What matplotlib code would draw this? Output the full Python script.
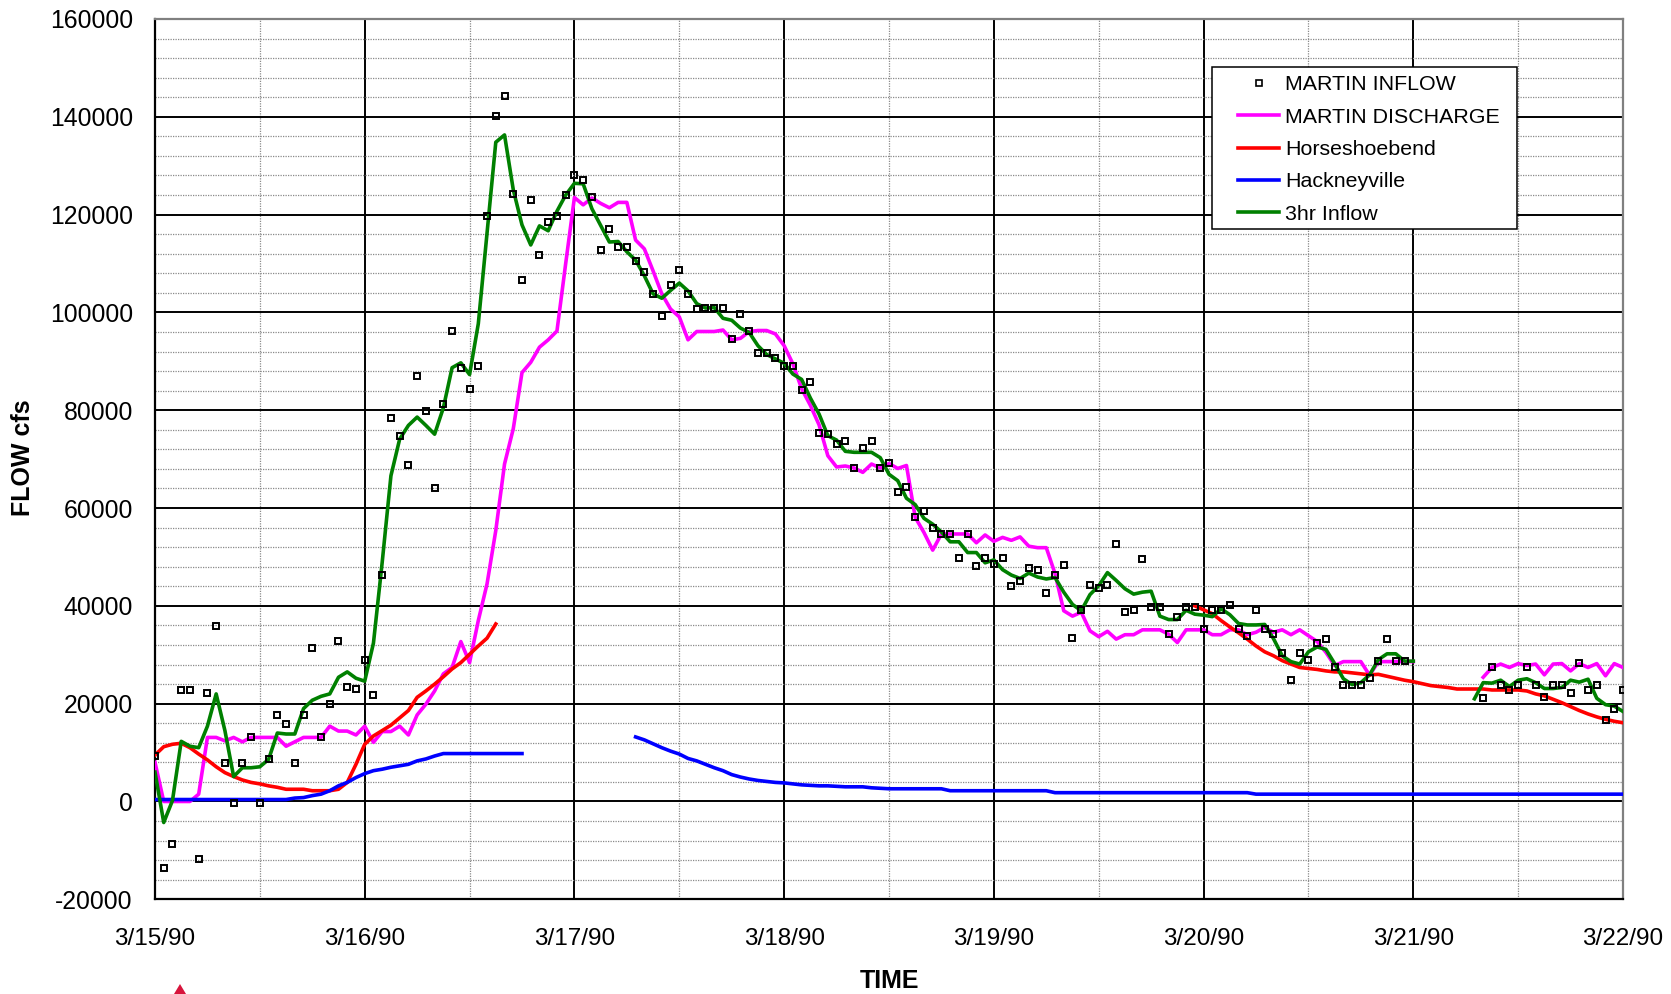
import numpy as np
import pandas as pd
import matplotlib
matplotlib.use("Agg")
import matplotlib.pyplot as plt
import matplotlib.dates as mdates
from matplotlib.ticker import MultipleLocator, StrMethodFormatter
from matplotlib.patches import Polygon, Rectangle
from matplotlib.lines import Line2D

N = None
# hourly observations starting 3/15/90 00:00
times = pd.date_range("1990-03-15 00:00", periods=169, freq="h")

martin_inflow = [
    9400, -13500, -8700, 22800, 22800, -11800, 22100, 35900, 7900, -400, 7900, 13100,
    -400, 8600, 17600, 15900, 7900, 17600, 31400, 13100, 20000, 32800, 23500, 23100,
    29000, 21800, 46400, 78500, 74800, 68900, 86900, 79900, 64000, 81300, 96200, 88600,
    84400, 89000, 119800, 140200, 144300, 124300, 106600, 122900, 111800, 118400, 119800, 124000,
    128100, 127100, 123600, 112800, 117000, 113300, 113300, 110500, 108300, 103800, 99300, 105600,
    108700, 103800, 100700, 101000, 101000, 101000, 94500, 99700, 96200, 91700, 91700, 90700,
    89000, 89000, 84100, 85800, 75400, 75100, 73000, 73700, 68100, 72300, 73700, 68100,
    69200, 63300, 64400, 58200, 59500, 56000, 54700, 54700, 49800, 54700, 48100, 49800,
    48500, 49800, 44000, 45000, 47700, 47400, 42600, 46400, 48400, 33500, 39100, 44300,
    43600, 44300, 52600, 38700, 39100, 49500, 39800, 39800, 34200, 37700, 39800, 39800,
    35300, 39100, 39100, 40100, 35300, 33900, 39100, 35300, 34200, 30400, 24900, 30400,
    29000, 32500, 33200, 27600, 23900, 23900, 23900, 25200, 28700, 33200, 28700, 28700,
    N, N, N, N, N, N, N, N, 21100, 27600, 23900, 22800,
    23900, 27600, 23900, 21400, 23900, 23900, 22100, 28300, 22800, 23900, 16600, 19000,
    22800]

martin_discharge = [
    8000, 0, 0, 0, 0, 1500, 13100, 13100, 12400, 13100, 12200, 13100,
    13100, 13100, 13100, 11300, 12200, 13100, 13100, 13100, 15400, 14400, 14400, 13600,
    15400, 12100, 14300, 14300, 15400, 13600, 17700, 19900, 22600, 26100, 27400, 32700,
    28400, 37000, 44500, 55400, 69000, 76200, 87700, 89800, 92900, 94400, 96200, 110000,
    123500, 122000, 123400, 122300, 121400, 122500, 122500, 114800, 113000, 108500, 103800, 100700,
    99100, 94400, 96100, 96100, 96100, 96400, 94400, 94700, 96100, 96300, 96300, 95600,
    93200, 89500, 84400, 81000, 77000, 70700, 68400, 68600, 68200, 67300, 69000, 68200,
    69100, 68100, 68700, 58100, 55000, 51400, 54700, 54700, 54700, 54700, 52900, 54500,
    53200, 54000, 53400, 54100, 52200, 51900, 51900, 46600, 39000, 37900, 38700, 34900,
    33700, 34800, 33200, 34100, 34100, 35100, 35100, 35100, 34200, 32500, 35100, 35100,
    35100, 34100, 34100, 35100, 35100, 34100, 34600, 35600, 34600, 35100, 34100, 35100,
    33900, 32700, 30500, 27800, 28600, 28600, 28600, 25800, 28600, 28600, 28600, 28600,
    28600, N, N, N, N, N, N, N, 25400, 27400, 28100, 27400,
    28200, 27800, 28100, 25900, 28100, 28200, 26700, 28200, 27400, 28200, 25700, 28200,
    27400]

horseshoebend = [
    9500, 11200, 11700, 11900, 11000, 9700, 8500, 7100, 5900, 5100, 4400, 3900,
    3600, 3200, 2900, 2500, 2500, 2500, 2200, 2200, 2200, 2500, 3900, 7600,
    11700, 13400, 14500, 15600, 17100, 18600, 21300, 22600, 24000, 25500, 27100, 28400,
    30100, 31800, 33400, 36300, N, N, N, N, N, N, N, N,
    N, N, N, N, N, N, N, N, N, N, N, N,
    N, N, N, N, N, N, N, N, N, N, N, N,
    N, N, N, N, N, N, N, N, N, N, N, N,
    N, N, N, N, N, N, N, N, N, N, N, N,
    N, N, N, N, N, N, N, N, N, N, N, N,
    N, N, N, N, N, N, N, N, N, N, N, 40000,
    39200, 38400, 37000, 35700, 34500, 33200, 31800, 30600, 29800, 28800, 28100, 27400,
    27200, 27000, 26700, 26500, 26500, 26300, 26100, 25900, 26000, 25600, 25200, 24800,
    24500, 24100, 23700, 23500, 23300, 23000, 23000, 23000, 23000, 22800, 22800, 22800,
    22800, 22600, 22000, 21600, 20900, 20200, 19400, 18600, 17900, 17300, 16800, 16400,
    16100]

hackneyville = [
    400, 400, 400, 400, 400, 400, 400, 400, 400, 400, 400, 400,
    400, 400, 400, 400, 700, 800, 1200, 1500, 2200, 3200, 3900, 4900,
    5700, 6300, 6600, 7000, 7300, 7600, 8300, 8700, 9300, 9800, 9800, 9800,
    9800, 9800, 9800, 9800, 9800, 9800, 9800, N, N, N, N, N,
    N, N, N, N, N, N, N, 13200, 12600, 11800, 11000, 10300,
    9700, 8800, 8300, 7600, 6900, 6300, 5500, 5000, 4600, 4300, 4100, 3900,
    3800, 3600, 3400, 3300, 3200, 3200, 3100, 3000, 3000, 3000, 2800, 2700,
    2600, 2600, 2600, 2600, 2600, 2600, 2600, 2200, 2200, 2200, 2200, 2200,
    2200, 2200, 2200, 2200, 2200, 2200, 2200, 1800, 1800, 1800, 1800, 1800,
    1800, 1800, 1800, 1800, 1800, 1800, 1800, 1800, 1800, 1800, 1800, 1800,
    1800, 1800, 1800, 1800, 1800, 1800, 1500, 1500, 1500, 1500, 1500, 1500,
    1500, 1500, 1500, 1500, 1500, 1500, 1500, 1500, 1500, 1500, 1500, 1500,
    1500, 1500, 1500, 1500, 1500, 1500, 1500, 1500, 1500, 1500, 1500, 1500,
    1500, 1500, 1500, 1500, 1500, 1500, 1500, 1500, 1500, 1500, 1500, 1500,
    1500]

inflow_3hr = [
    6000, -4300, 200, 12300, 11300, 11000, 15400, 22000, 14500, 5100, 6900, 6900,
    7100, 8600, 14000, 13800, 13800, 19000, 20700, 21500, 22000, 25400, 26500, 25200,
    24600, 32400, 48900, 66600, 74100, 76900, 78600, 76900, 75100, 80500, 88700, 89700,
    87300, 97700, 116300, 134800, 136300, 125100, 117900, 113800, 117700, 116700, 120700, 124000,
    126400, 126300, 121200, 117800, 114400, 114500, 112400, 110700, 107500, 103800, 102900, 104500,
    106000, 104400, 101800, 100900, 101000, 98800, 98400, 96800, 95900, 93200, 91400, 90500,
    89600, 87400, 86300, 82500, 79200, 74800, 73900, 71600, 71400, 71400, 71400, 70300,
    66900, 65600, 62000, 60700, 57900, 56700, 55100, 53100, 53100, 50900, 50900, 48800,
    49400, 47400, 46300, 45600, 46700, 45900, 45500, 45800, 42800, 40300, 39000, 42300,
    44100, 46800, 45200, 43500, 42400, 42800, 43000, 37900, 37200, 37200, 39100, 38300,
    38100, 37800, 39400, 38200, 36400, 36100, 36100, 36200, 33300, 29800, 28600, 28100,
    30600, 31600, 31100, 28200, 25100, 23900, 24300, 25900, 29000, 30200, 30200, 28700,
    28700, N, N, N, N, N, N, 21000, 24300, 24200, 24800, 23500,
    24800, 25100, 24300, 23100, 23100, 23300, 24800, 24400, 25000, 21100, 19800, 19500,
    18400]

tick_labels = ["3/15/90", "3/16/90", "3/17/90", "3/18/90",
               "3/19/90", "3/20/90", "3/21/90", "3/22/90"]
tick_dates = pd.date_range("1990-03-15", periods=len(tick_labels), freq="D")

def arr(v):
    return np.array([np.nan if x is None else x for x in v], dtype=float)

plt.rcParams['font.family'] = ['Liberation Sans', 'DejaVu Sans']
plt.rcParams['axes.unicode_minus'] = False

W, H = 1671, 994
fig = plt.figure(figsize=(W / 100, H / 100), dpi=100)
L, R, T, B = 155, 1623, 19, 899.3
ax = fig.add_axes([L / W, 1 - B / H, (R - L) / W, (B - T) / H])

LW = 2.6
MS, MEW = 4.4, 1.4
ax.plot(times, arr(martin_discharge), color='#FF00FF', lw=LW, zorder=3)
ax.plot(times, arr(horseshoebend), color='#FF0000', lw=LW, zorder=3)
ax.plot(times, arr(hackneyville), color='#0000FF', lw=LW, zorder=3)
ax.plot(times, arr(inflow_3hr), color='#008000', lw=LW, zorder=4)
ax.plot(times, arr(martin_inflow), ls='none', marker='s', ms=MS, mew=MEW,
        mfc='none', mec='black', zorder=5)

ax.set_xlim(tick_dates[0], tick_dates[-1])
ax.set_ylim(-20000, 160000)
ax.set_xticks(tick_dates)
ax.set_xticklabels(tick_labels)
ax.xaxis.set_minor_locator(mdates.HourLocator(byhour=[12]))
ax.yaxis.set_major_locator(MultipleLocator(20000))
ax.yaxis.set_minor_locator(MultipleLocator(4000))
ax.yaxis.set_major_formatter(StrMethodFormatter('{x:.0f}'))

ax.set_axisbelow(True)
ax.grid(which='major', color='black', lw=1.4)
ax.grid(which='minor', color='#8a8a8a', lw=0.9, ls=(0, (1, 1)))
ax.tick_params(which='both', length=0)
ax.tick_params(axis='y', labelsize=17.8, pad=16)
ax.tick_params(axis='x', labelsize=17.5, pad=21)

for s in ['left', 'bottom']:
    ax.spines[s].set_color('black')
    ax.spines[s].set_linewidth(1.6)
for s in ['top', 'right']:
    ax.spines[s].set_color('#808080')
    ax.spines[s].set_linewidth(1.6)

fig.text(889 / W, 1 - 981 / H, 'TIME', ha='center', va='center',
         fontsize=18, fontweight='bold')
fig.text(23 / W, 1 - 458 / H, 'FLOW cfs', ha='center', va='center',
         rotation=90, fontsize=18, fontweight='bold')

# legend
frame = Rectangle((1212.3 / W, 1 - 229.3 / H), 305 / W, 162.6 / H,
                  transform=fig.transFigure, facecolor='white',
                  edgecolor='black', lw=1.1, zorder=5)
fig.add_artist(frame)
handles = [
    Line2D([], [], ls='none', marker='s', ms=MS - 0.6, mew=MEW - 0.2, mfc='none', mec='black'),
    Line2D([], [], color='#FF00FF', lw=LW),
    Line2D([], [], color='#FF0000', lw=LW),
    Line2D([], [], color='#0000FF', lw=LW),
    Line2D([], [], color='#008000', lw=LW),
]
labels = ['MARTIN INFLOW', 'MARTIN DISCHARGE', 'Horseshoebend', 'Hackneyville', '3hr Inflow']
leg = fig.legend(handles, labels, loc='upper left',
                 bbox_to_anchor=(1237.7 / W, 1 - 75.5 / H),
                 bbox_transform=fig.transFigure, frameon=False,
                 borderpad=0, borderaxespad=0, fontsize=15.4,
                 handlelength=1.95, handletextpad=0.25, labelspacing=0.62)
leg.set_zorder(6)

# small marker at the bottom edge
tri = Polygon([[174 / W, 0.0], [186 / W, 0.0], [180 / W, 1 - 984 / H]],
              closed=True, transform=fig.transFigure, facecolor='#D7143C',
              edgecolor='none', zorder=6)
fig.add_artist(tri)

fig.savefig('out.png', dpi=100)
